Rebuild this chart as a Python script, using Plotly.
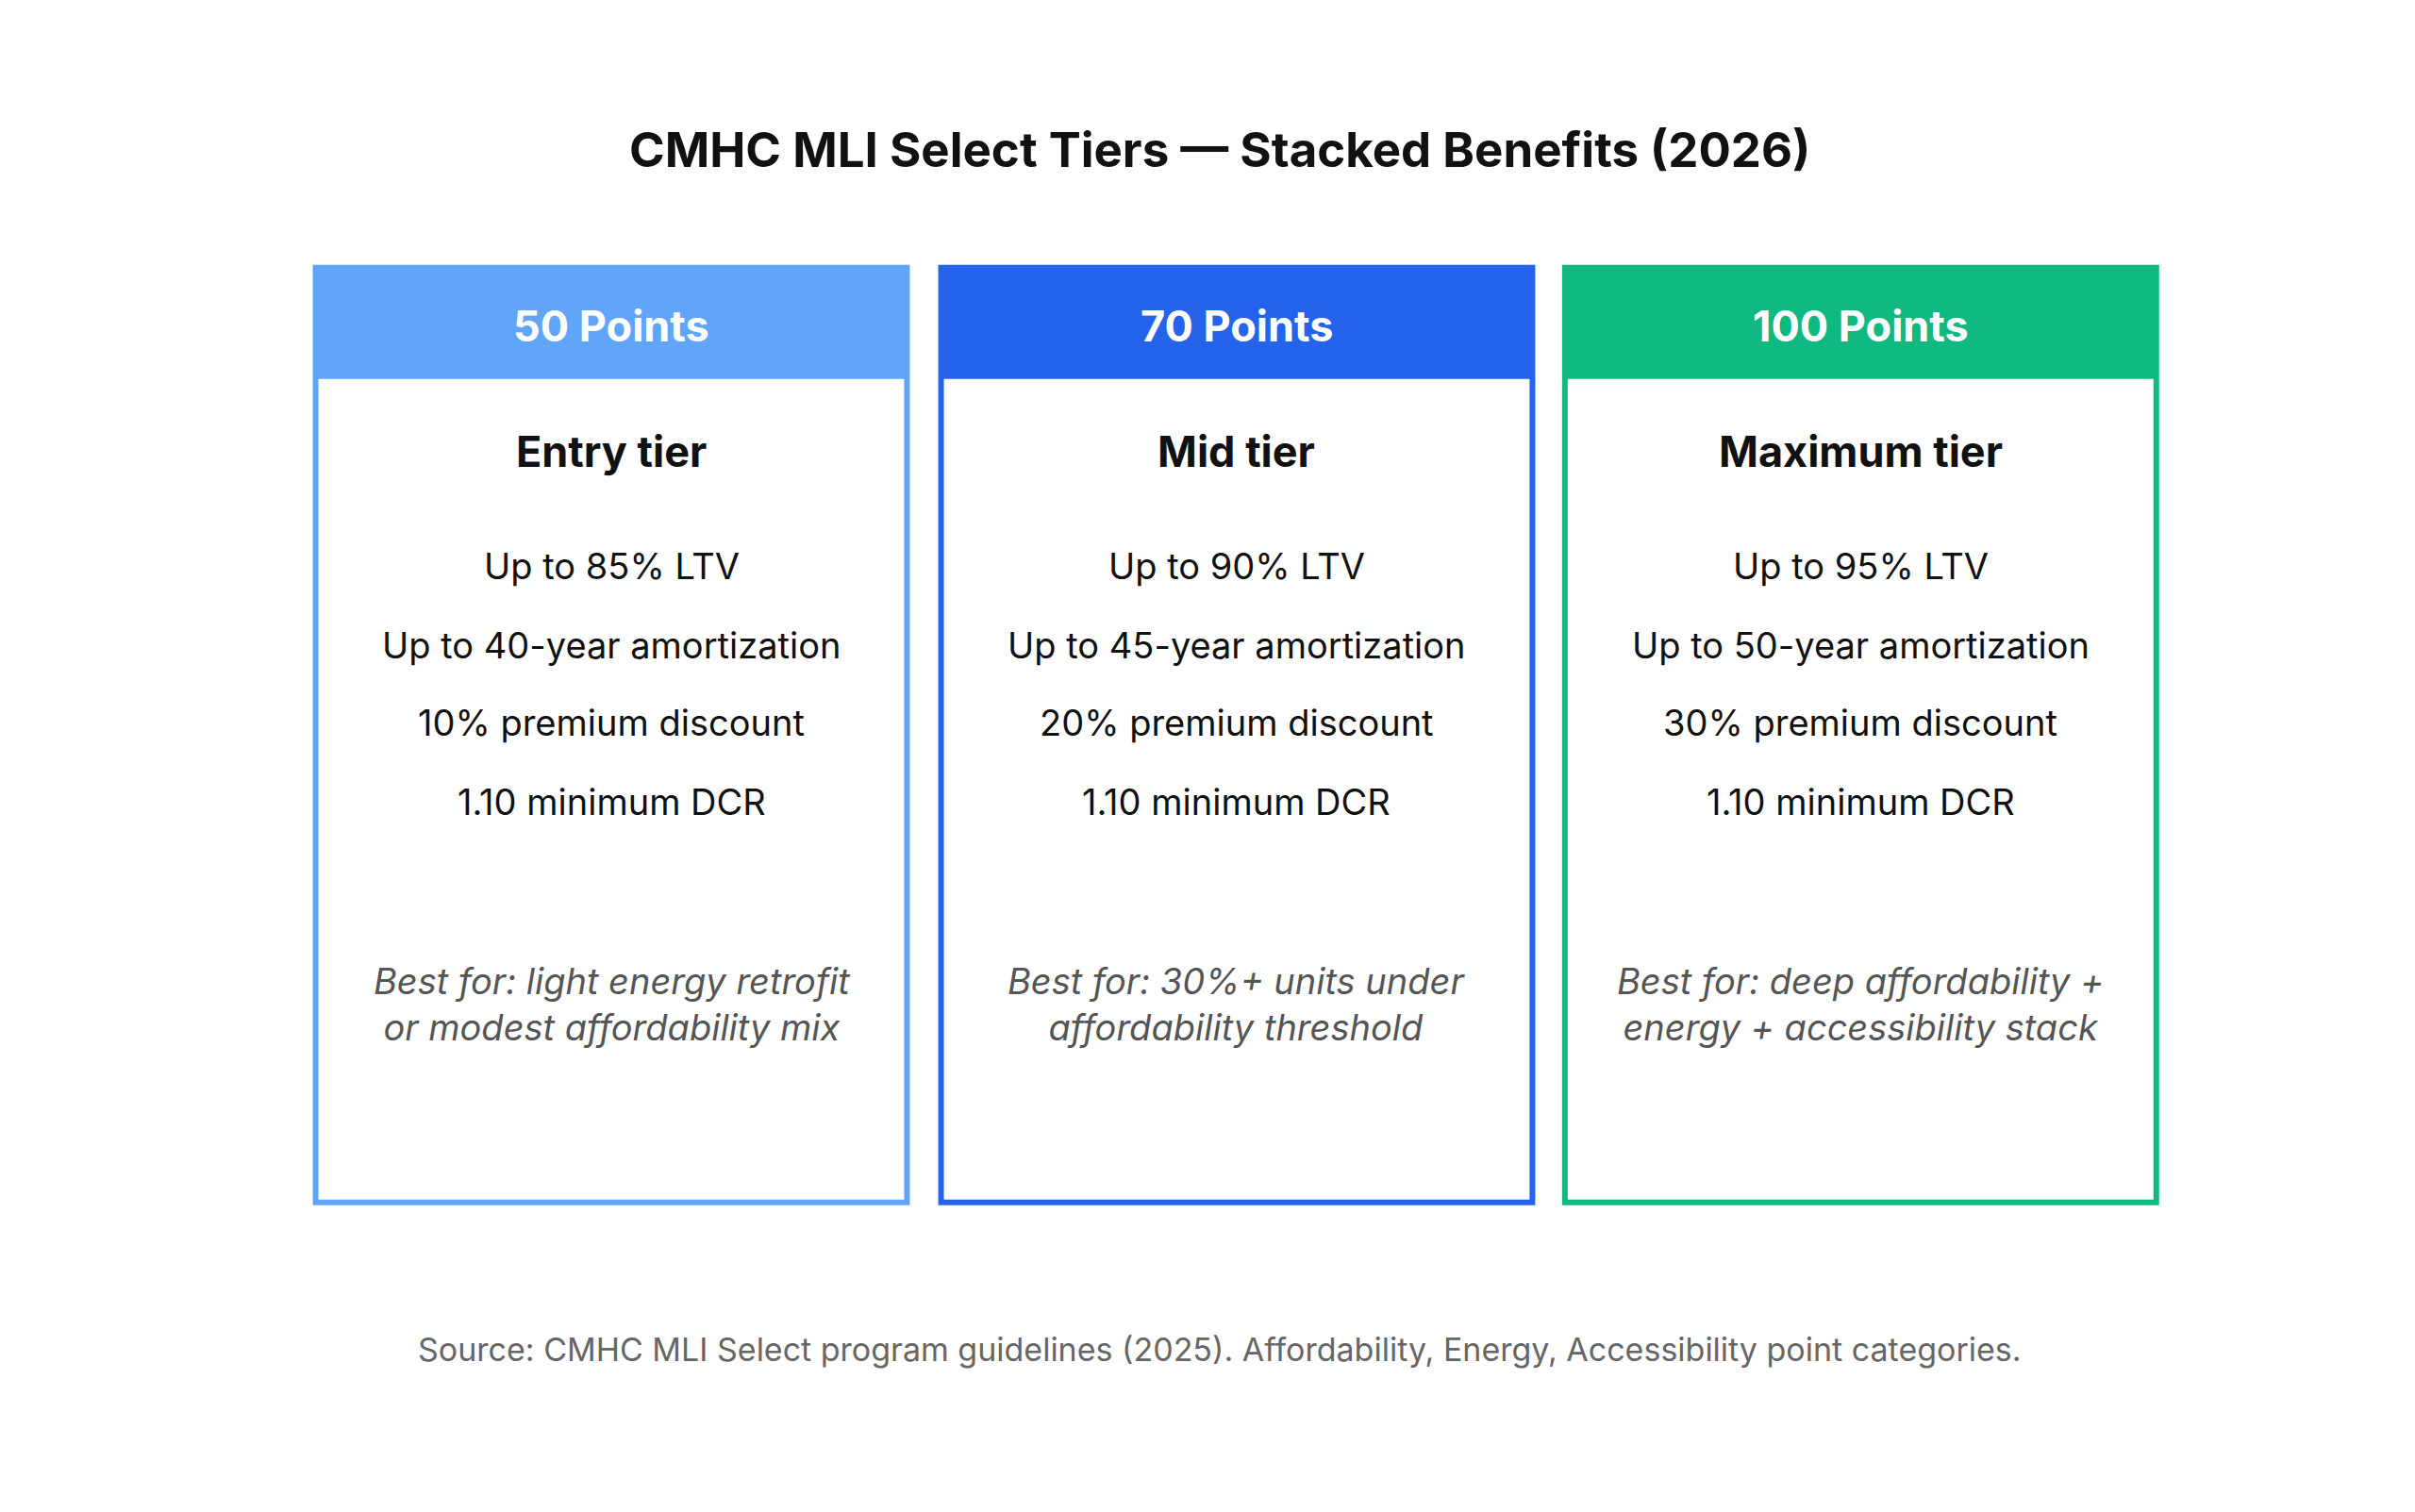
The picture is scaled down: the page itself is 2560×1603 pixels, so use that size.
import plotly.graph_objects as go

tiers = ["50 Points", "70 Points", "100 Points"]
tier_names = ["Entry tier", "Mid tier", "Maximum tier"]
ltv = ["Up to 85% LTV", "Up to 90% LTV", "Up to 95% LTV"]
amort = ["Up to 40-year amortization", "Up to 45-year amortization", "Up to 50-year amortization"]
discount = ["10% premium discount", "20% premium discount", "30% premium discount"]
dcr = ["1.10 minimum DCR", "1.10 minimum DCR", "1.10 minimum DCR"]
best_for = ["Best for: light energy retrofit<br>or modest affordability mix",
            "Best for: 30%+ units under<br>affordability threshold",
            "Best for: deep affordability +<br>energy + accessibility stack"]
colors = ["#60A5FA", "#2563EB", "#10B981"]

W, H = 1560, 977
FONT = "Inter, Roboto, sans-serif"
fig = go.Figure()
lefts = [199, 603, 1006]
cw = 382
top, hb, bot = 168, 240, 772

for i in range(3):
    x0, x1 = lefts[i], lefts[i] + cw
    fig.add_shape(type="rect", x0=x0, x1=x1, y0=top, y1=bot, line=dict(color=colors[i], width=6), fillcolor="white")
    fig.add_shape(type="rect", x0=x0, x1=x1, y0=top, y1=hb, line=dict(width=0), fillcolor=colors[i])
    cx = (x0 + x1) / 2
    fig.add_annotation(x=cx, y=206, text=f"<b>{tiers[i]}</b>", showarrow=False, font=dict(size=45, color="white", family=FONT))
    fig.add_annotation(x=cx, y=287, text=f"<b>{tier_names[i]}</b>", showarrow=False, font=dict(size=45, color="#111111", family=FONT))
    for yy, t in zip([361, 412, 462, 513], [ltv[i], amort[i], discount[i], dcr[i]]):
        fig.add_annotation(x=cx, y=yy, text=t, showarrow=False, font=dict(size=38, color="#111111", family=FONT))
    fig.add_annotation(x=cx, y=644, text=f"<i>{best_for[i]}</i>", showarrow=False,
                       font=dict(size=38, color="#555555", family=FONT), align="center")

fig.add_annotation(x=W/2 + 3, y=92, text="<b>CMHC MLI Select Tiers — Stacked Benefits (2026)</b>", showarrow=False,
                   font=dict(size=51, color="#111111", family=FONT))
fig.add_annotation(x=W/2 + 3, y=867, text="Source: CMHC MLI Select program guidelines (2025). Affordability, Energy, Accessibility point categories.",
                   showarrow=False, font=dict(size=34, color="#666666", family=FONT))

fig.update_xaxes(range=[0, W], visible=False, fixedrange=True)
fig.update_yaxes(range=[H, 0], visible=False, fixedrange=True)
fig.update_layout(width=2560, height=1603, margin=dict(l=0, r=0, t=0, b=0),
                  paper_bgcolor="white", plot_bgcolor="white", showlegend=False)
fig.write_html("out.html")
